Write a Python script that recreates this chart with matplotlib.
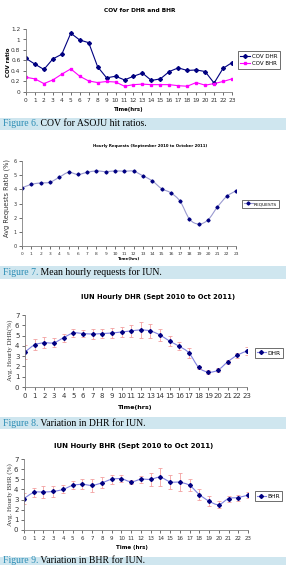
import numpy as np
import matplotlib
matplotlib.use("Agg")
import matplotlib.pyplot as plt
from matplotlib.path import Path
from matplotlib.patches import PathPatch, Rectangle

hours = list(range(24))

# Figure 6 - COV for ASOJU
cov_dhr = [0.64, 0.53, 0.43, 0.63, 0.72, 1.12, 0.99, 0.94, 0.48, 0.27, 0.30, 0.23,
           0.30, 0.36, 0.22, 0.25, 0.39, 0.46, 0.41, 0.42, 0.39, 0.17, 0.45, 0.56]
cov_bhr = [0.28, 0.25, 0.16, 0.23, 0.34, 0.44, 0.30, 0.21, 0.18, 0.20, 0.19, 0.11,
           0.14, 0.15, 0.14, 0.14, 0.14, 0.12, 0.11, 0.18, 0.13, 0.16, 0.20, 0.25]

# Figure 7 - hourly requests
requests = [4.10, 4.35, 4.45, 4.50, 4.85, 5.20, 5.05, 5.20, 5.30, 5.25, 5.30, 5.28,
            5.28, 4.95, 4.60, 4.05, 3.75, 3.15, 1.90, 1.55, 1.85, 2.75, 3.50, 3.90]

# Figure 8 - DHR
dhr = [3.40, 4.10, 4.30, 4.30, 4.80, 5.25, 5.20, 5.15, 5.20, 5.25, 5.35, 5.45,
       5.55, 5.45, 5.05, 4.45, 3.95, 3.30, 1.90, 1.45, 1.65, 2.45, 3.10, 3.50]
dhr_err = [0.70, 0.55, 0.55, 0.45, 0.40, 0.35, 0.35, 0.45, 0.40, 0.50, 0.50, 0.55,
           0.75, 0.70, 0.55, 0.50, 0.40, 0.50, 0.15, 0.20, 0.20, 0.20, 0.25, 0.40]

# Figure 9 - BHR
bhr = [3.10, 3.70, 3.75, 3.80, 4.00, 4.40, 4.50, 4.40, 4.65, 5.00, 5.05, 4.75,
       5.00, 5.00, 5.20, 4.75, 4.70, 4.40, 3.50, 2.85, 2.50, 3.10, 3.20, 3.45]
bhr_err = [0.50, 0.45, 0.60, 0.50, 0.40, 0.40, 0.50, 0.65, 0.55, 0.45, 0.35, 0.20,
           0.35, 0.65, 0.90, 0.70, 0.90, 0.60, 0.50, 0.50, 0.35, 0.30, 0.30, 0.25]

captions = [("Figure 6.", " COV for ASOJU hit ratios."),
            ("Figure 7.", " Mean hourly requests for IUN."),
            ("Figure 8.", " Variation in DHR for IUN."),
            ("Figure 9.", " Variation in BHR for IUN.")]

W, H = 291, 565
fig = plt.figure(figsize=(W / 100, H / 100), dpi=100)


def box(l, t, r, b):
    return [l / W, 1 - b / H, (r - l) / W, (b - t) / H]


def fx(x):
    return x / W


def fy(y):
    return 1 - y / H


def smooth_line(ax, x, y, color, lw):
    # Excel style smoothed line through the points (cubic bezier segments)
    p = np.column_stack([x, y]).astype(float)
    pts = [p[0]]
    codes = [Path.MOVETO]
    n = len(p)
    for i in range(n - 1):
        p0 = p[i - 1] if i > 0 else p[i]
        p3 = p[i + 2] if i + 2 < n else p[i + 1]
        c1 = p[i] + (p[i + 1] - p0) / 6
        c2 = p[i + 1] - (p3 - p[i]) / 6
        pts += [c1, c2, p[i + 1]]
        codes += [Path.CURVE4] * 3
    ax.add_patch(PathPatch(Path(pts, codes), fill=False, edgecolor=color, lw=lw))


def style_axes(ax, ymax, ystep, xfs, yfs):
    ax.set_xlim(0, 23)
    ax.set_ylim(0, ymax)
    ax.set_xticks(hours)
    ax.set_yticks(np.arange(0, ymax + 1e-9, ystep))
    ax.yaxis.set_major_formatter(matplotlib.ticker.FormatStrFormatter('%g'))
    ax.tick_params(axis='x', labelsize=xfs, length=2, width=0.5, pad=2, colors='#333333')
    ax.tick_params(axis='y', labelsize=yfs, length=2, width=0.5, pad=2, colors='#333333')
    for s in ['top', 'right']:
        ax.spines[s].set_visible(False)
    for s in ['left', 'bottom']:
        ax.spines[s].set_color('#808080')
        ax.spines[s].set_linewidth(0.6)
    ax.patch.set_alpha(0)


def legend(ax, x, y, fs, hl):
    leg = ax.legend(loc='center left', bbox_to_anchor=(fx(x), fy(y)),
                    bbox_transform=fig.transFigure, fontsize=fs, frameon=True,
                    fancybox=False, handlelength=hl, borderpad=0.4,
                    labelspacing=0.5, handletextpad=0.3, borderaxespad=0)
    leg.get_frame().set_edgecolor('black')
    leg.get_frame().set_linewidth(0.5)


# ---- Figure 6 ----
ax1 = fig.add_axes(box(26, 29, 232, 92))
ax1.plot(hours, cov_dhr, color='#000080', lw=0.8, marker='D', ms=2, label='COV DHR')
ax1.plot(hours, cov_bhr, color='#ff00ff', lw=0.8, marker='s', ms=2, label='COV BHR')
style_axes(ax1, 1.2, 0.2, 4.2, 4.2)
legend(ax1, 238, 60, 4.0, 1.8)
fig.text(fx(140), fy(11), 'COV for DHR and BHR', ha='center', va='center',
         fontsize=4.2, fontweight='bold')
fig.text(fx(129), fy(110), 'Time(hrs)', ha='center', va='center',
         fontsize=3.9, fontweight='bold')
fig.text(fx(9), fy(62), 'COV ratio', ha='center', va='center', rotation=90,
         fontsize=4.0, fontweight='bold')

# ---- Figure 7 ----
ax2 = fig.add_axes(box(22, 161, 236, 246))
smooth_line(ax2, hours, requests, '#9a9ad0', 0.8)
ax2.plot(hours, requests, ls='none', marker='D', ms=1.6, color='#000080')
ax2.plot([], [], color='#9a9ad0', lw=0.8, marker='D', ms=1.6, mfc='#000080',
         mec='#000080', label='REQUESTS')
style_axes(ax2, 6, 1, 3.2, 3.5)
legend(ax2, 242, 204, 3.2, 2.0)
fig.text(fx(150), fy(146), 'Hourly Requests (September 2010 to October 2011)',
         ha='center', va='center', fontsize=2.8, fontweight='bold')
fig.text(fx(129), fy(259), 'Time(hrs)', ha='center', va='center',
         fontsize=2.9, fontweight='bold')
fig.text(fx(7), fy(198), 'Avg Requests Ratio (%)', ha='center', va='center',
         rotation=90, fontsize=4.8, color='#333333')

# ---- Figure 8 ----
ax3 = fig.add_axes(box(25, 315, 247, 387))
ax3.errorbar(hours, dhr, yerr=dhr_err, fmt='none', ecolor='#f2a0a0',
             elinewidth=0.6, capsize=1.5, capthick=0.6)
smooth_line(ax3, hours, dhr, '#8080e0', 0.8)
ax3.plot(hours, dhr, ls='none', marker='D', ms=2, color='#000080')
ax3.plot([], [], color='#8080e0', lw=0.8, marker='D', ms=2, mfc='#000080',
         mec='#000080', label='DHR')
style_axes(ax3, 7, 1, 5.0, 5.0)
legend(ax3, 255, 353, 4.2, 1.4)
fig.text(fx(158), fy(297), 'IUN Hourly DHR (Sept 2010 to Oct 2011)',
         ha='center', va='center', fontsize=4.9, fontweight='bold')
fig.text(fx(135), fy(407), 'Time(hrs)', ha='center', va='center',
         fontsize=4.6, fontweight='bold')
fig.text(fx(10), fy(350), 'Avg. Hourly DHR(%)', ha='center', va='center',
         rotation=90, fontsize=5.0, family='Liberation Serif', color='#333333')

# ---- Figure 9 ----
ax4 = fig.add_axes(box(24, 459, 248, 530))
ax4.errorbar(hours, bhr, yerr=bhr_err, fmt='none', ecolor='#f2a0a0',
             elinewidth=0.6, capsize=1.5, capthick=0.6)
smooth_line(ax4, hours, bhr, '#8080e0', 0.8)
ax4.plot(hours, bhr, ls='none', marker='D', ms=2, color='#000080')
ax4.plot([], [], color='#8080e0', lw=0.8, marker='D', ms=2, mfc='#000080',
         mec='#000080', label='BHR')
style_axes(ax4, 7, 1, 4.0, 5.0)
legend(ax4, 255, 496, 4.2, 1.4)
fig.text(fx(134), fy(446), 'IUN Hourly BHR (Sept 2010 to Oct 2011)',
         ha='center', va='center', fontsize=5.0, fontweight='bold')
fig.text(fx(132), fy(548), 'Time (hrs)', ha='center', va='center',
         fontsize=4.0, fontweight='bold')
fig.text(fx(10), fy(495), 'Avg. Hourly BHR (%)', ha='center', va='center',
         rotation=90, fontsize=5.0, family='Liberation Serif', color='#333333')

# ---- captions ----
bands = [(118, 130), (266, 279), (417, 429), (557, 570)]
renderer = fig.canvas.get_renderer()
for (top, bot), (lead, rest) in zip(bands, captions):
    fig.add_artist(Rectangle((0, fy(bot)), fx(286), (bot - top) / H,
                             transform=fig.transFigure, facecolor='#cfe6ef',
                             edgecolor='none', zorder=0))
    yc = fy(min((top + bot) / 2, 560.5))
    t1 = fig.text(fx(3), yc, lead, ha='left', va='center', fontsize=7.0,
                  family='Liberation Serif', color='#2a8cb4')
    ext = t1.get_window_extent(renderer)
    fig.text(ext.x1 / W / (fig.dpi / 100), yc, rest, ha='left', va='center',
             fontsize=7.0, family='Liberation Serif', color='black')

fig.savefig('out.png', dpi=100)
